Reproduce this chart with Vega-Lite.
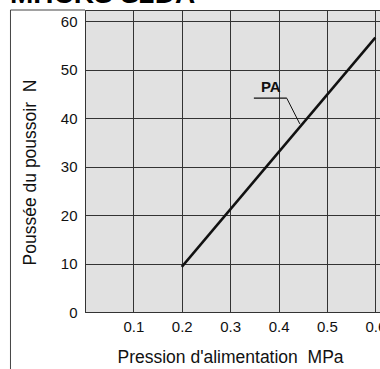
{
  "$schema": "https://vega.github.io/schema/vega-lite/v6.json",
  "autosize": {"type": "none"},
  "padding": {"left": 85, "top": 10, "right": 0, "bottom": 57},
  "width": 300,
  "height": 302,
  "background": "white",
  "title": {
    "text": "MHCKS S2DA",
    "anchor": "start",
    "frame": "group",
    "dx": -75,
    "dy": 21,
    "offset": 0,
    "baseline": "alphabetic",
    "fontSize": 28,
    "fontWeight": "bold",
    "font": "Liberation Sans",
    "color": "black"
  },
  "config": {
    "font": "Liberation Sans",
    "view": {"fill": "#e1e1e1", "stroke": "#333333", "strokeWidth": 1},
    "axis": {
      "grid": true,
      "gridColor": "#333333",
      "gridOpacity": 1,
      "gridWidth": 1,
      "domainColor": "#333333",
      "domainWidth": 1,
      "ticks": false,
      "labelFontSize": 15,
      "labelColor": "#111111",
      "titleFontSize": 17.5,
      "titleFontWeight": "normal",
      "titleColor": "#111111"
    }
  },
  "datasets": {
    "curve": [
      {"p": 0.2, "f": 9.3, "s": "PA"},
      {"p": 0.6, "f": 56.6, "s": "PA"}
    ],
    "underline": [{"x1": 0.349, "x2": 0.417, "y": 44.1}],
    "leader": [{"x1": 0.417, "y1": 44.1, "x2": 0.444, "y2": 38.8}],
    "label": [{"x": 0.384, "y": 46.4, "t": "PA"}],
    "frameV": [{"x": -0.154, "y1": -20, "y2": 62.3}],
    "frameH": [{"x1": -0.154, "x2": 0, "y": 62.3}]
  },
  "layer": [
    {
      "data": {"name": "curve"},
      "mark": {"type": "line", "color": "#111111", "strokeWidth": 2.5},
      "encoding": {
        "x": {
          "field": "p",
          "type": "quantitative",
          "scale": {"domain": [0, 0.62], "nice": false, "zero": false},
          "axis": {
            "values": [0.1, 0.2, 0.3, 0.4, 0.5, 0.6],
            "format": ".1f",
            "labelPadding": 7,
            "title": "Pression d'alimentation \u00a0MPa",
            "titlePadding": 14,
            "titleX": 145
          }
        },
        "y": {
          "field": "f",
          "type": "quantitative",
          "scale": {"domain": [0, 62.3], "nice": false, "zero": false},
          "axis": {
            "values": [0, 10, 20, 30, 40, 50, 60],
            "labelPadding": 8,
            "title": "Poussée du poussoir \u00a0N",
            "titlePadding": 21,
            "titleY": 162,
            "encode": {
              "labels": {
                "update": {"dy": {"signal": "datum.value === 0 ? 8 : 2"}}
              }
            }
          }
        }
      }
    },
    {
      "data": {"name": "underline"},
      "mark": {"type": "rule", "color": "#111111", "strokeWidth": 1.3},
      "encoding": {
        "x": {"field": "x1", "type": "quantitative"},
        "x2": {"field": "x2"},
        "y": {"field": "y", "type": "quantitative"}
      }
    },
    {
      "data": {"name": "leader"},
      "mark": {"type": "rule", "color": "#111111", "strokeWidth": 1},
      "encoding": {
        "x": {"field": "x1", "type": "quantitative"},
        "x2": {"field": "x2"},
        "y": {"field": "y1", "type": "quantitative"},
        "y2": {"field": "y2"}
      }
    },
    {
      "data": {"name": "label"},
      "mark": {"type": "text", "fontSize": 15, "fontWeight": "bold", "color": "#111111", "baseline": "middle", "align": "center"},
      "encoding": {
        "x": {"field": "x", "type": "quantitative"},
        "y": {"field": "y", "type": "quantitative"},
        "text": {"field": "t"}
      }
    },
    {
      "data": {"name": "frameV"},
      "mark": {"type": "rule", "color": "#444444", "strokeWidth": 1, "clip": false},
      "encoding": {
        "x": {"field": "x", "type": "quantitative"},
        "y": {"field": "y1", "type": "quantitative"},
        "y2": {"field": "y2"}
      }
    },
    {
      "data": {"name": "frameH"},
      "mark": {"type": "rule", "color": "#444444", "strokeWidth": 1, "clip": false},
      "encoding": {
        "x": {"field": "x1", "type": "quantitative"},
        "x2": {"field": "x2"},
        "y": {"field": "y", "type": "quantitative"}
      }
    }
  ]
}
